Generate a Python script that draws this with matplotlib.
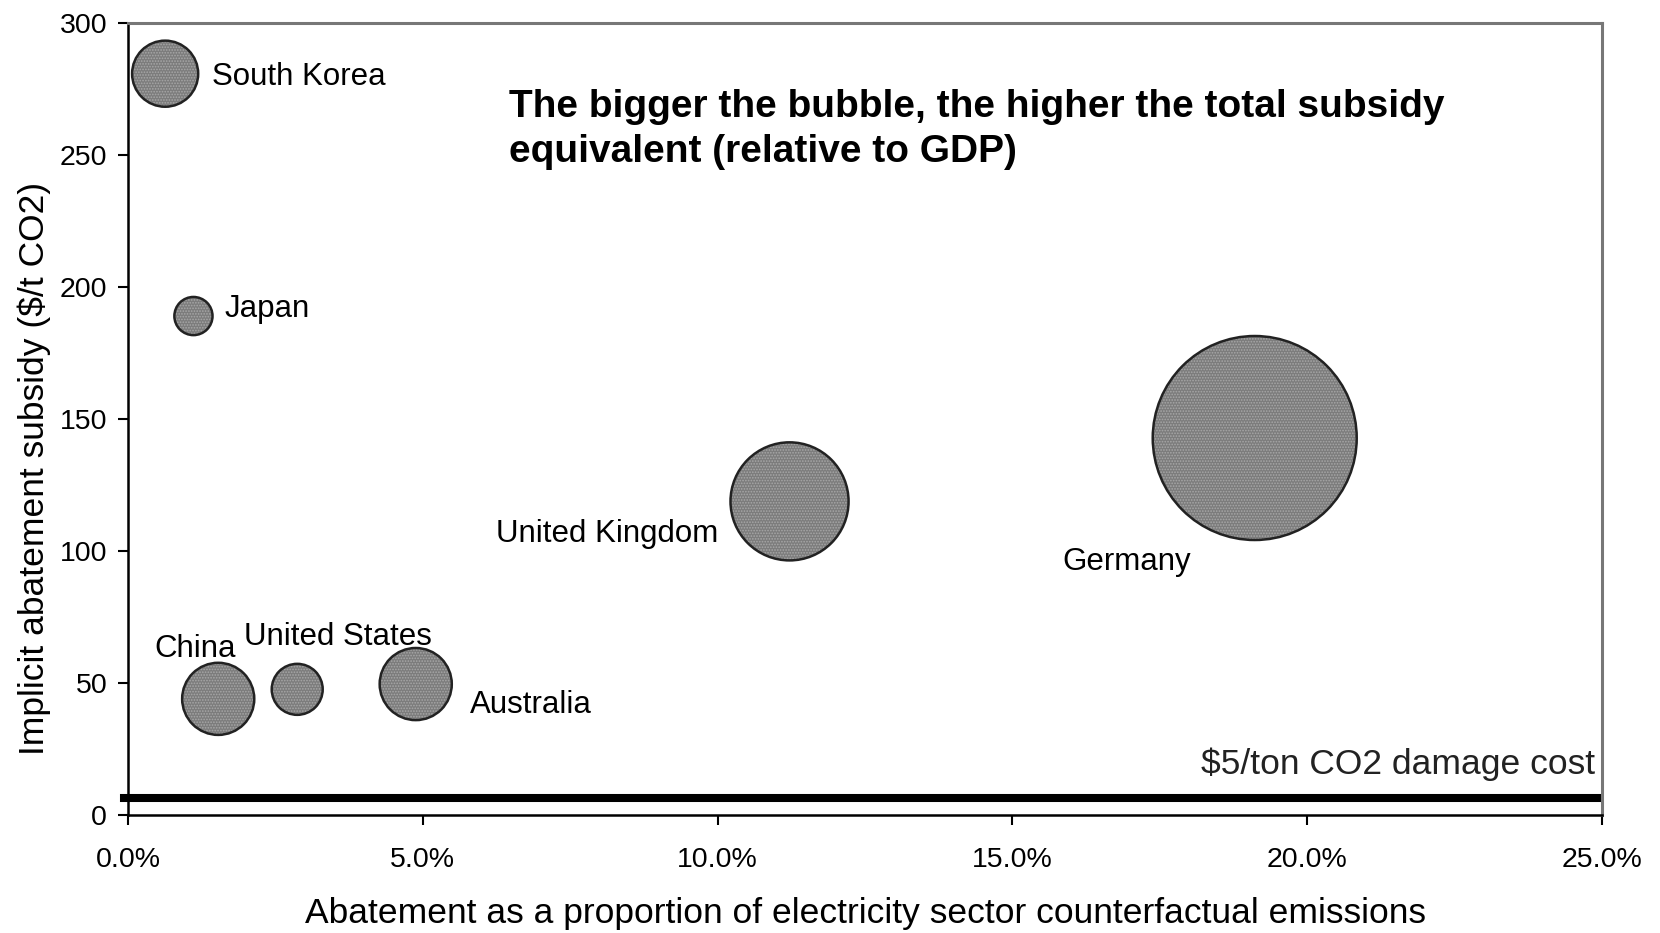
import matplotlib
matplotlib.use("Agg")
import matplotlib.pyplot as plt
from matplotlib.ticker import FuncFormatter

plt.rcParams['font.family'] = ['Liberation Sans', 'DejaVu Sans']
plt.rcParams['hatch.linewidth'] = 0.8

# data
countries = ['South Korea', 'Japan', 'China', 'United States', 'Australia',
             'United Kingdom', 'Germany']
abatement_pct = [0.63, 1.11, 1.53, 2.87, 4.88, 11.22, 19.11]     # % of counterfactual emissions
subsidy_per_t = [280.8, 189.0, 44.0, 47.6, 49.6, 118.8, 142.8]   # $/t CO2
subsidy_gdp_rel = [0.105, 0.035, 0.125, 0.0625, 0.125, 0.335, 1.0]  # bubble size, Germany = 1
damage_cost_line = 6.5

# label positions (data coords, left/centre anchored)
label_pos = {
    'South Korea': (1.42, 279.5),
    'Japan': (1.64, 191.7),
    'China': (0.44, 62.9),
    'United States': (1.97, 67.4),
    'Australia': (5.80, 41.7),
    'United Kingdom': (6.24, 106.4),
    'Germany': (15.84, 95.8),
}

fig = plt.figure(figsize=(16.6, 9.33), dpi=100)
ax = fig.add_axes([128 / 1660, 1 - 815 / 933, (1602 - 128) / 1660, (815 - 23) / 933])

size_scale = (2 * 102 * 0.72) ** 2
sizes = [v * size_scale for v in subsidy_gdp_rel]

# textured fill, then outline
ax.scatter(abatement_pct, subsidy_per_t, s=sizes, facecolor='#7c7c7c',
           edgecolor='#a8a8a8', linewidth=0, hatch='......', zorder=3)
ax.scatter(abatement_pct, subsidy_per_t, s=sizes, facecolor='none',
           edgecolor='#222222', linewidth=1.8, zorder=4)

for name in countries:
    lx, ly = label_pos[name]
    ax.text(lx, ly, name, fontsize=22.5, ha='left', va='center', zorder=5)

ax.axhline(damage_cost_line, xmin=-0.003, xmax=0.998, color='black',
           linewidth=5.8, clip_on=False, zorder=2)
ax.text(24.88, 19.3, '$5/ton CO2 damage cost', fontsize=25.5,
        ha='right', va='center', color='#222222')

ax.text(6.46, 259.5, 'The bigger the bubble, the higher the total subsidy\nequivalent (relative to GDP)',
        fontsize=28, fontweight='bold', ha='left', va='center', linespacing=1.32)

ax.set_xlim(0, 25)
ax.set_ylim(0, 300)
ax.set_xticks([0, 5, 10, 15, 20, 25])
ax.set_yticks([0, 50, 100, 150, 200, 250, 300])
ax.xaxis.set_major_formatter(FuncFormatter(lambda v, p: f'{v:.1f}%'))
ax.tick_params(axis='x', direction='out', length=7, width=1.5, labelsize=20.5, pad=16)
ax.tick_params(axis='y', direction='out', length=7, width=1.5, labelsize=20.5, pad=8)

for side in ['left', 'bottom']:
    ax.spines[side].set_color('black')
    ax.spines[side].set_linewidth(1.8)
for side in ['top', 'right']:
    ax.spines[side].set_color('#777777')
    ax.spines[side].set_linewidth(2.2)

ax.set_xlabel('Abatement as a proportion of electricity sector counterfactual emissions',
              fontsize=25.5, va='center')
ax.set_ylabel('Implicit abatement subsidy ($/t CO2)', fontsize=25.5, va='center')
ax.xaxis.set_label_coords(0.5, (815 - 913) / 792)
ax.yaxis.set_label_coords((34 - 128) / 1474, 0.438)

fig.savefig('out.png', dpi=100)
